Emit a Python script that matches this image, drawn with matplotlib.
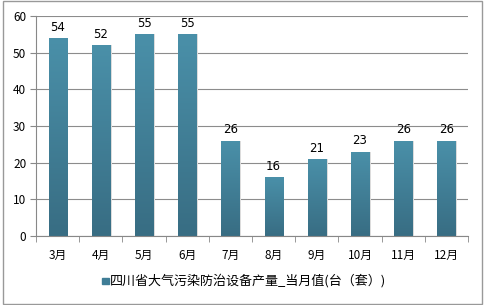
import matplotlib
matplotlib.use('Agg')
import matplotlib.pyplot as plt
import numpy as np
from matplotlib.patches import Rectangle

plt.rcParams['font.family'] = ['Noto Sans CJK SC', 'DejaVu Sans']

# data
months = ['3月', '4月', '5月', '6月', '7月', '8月', '9月', '10月', '11月', '12月']
values = [54, 52, 55, 55, 26, 16, 21, 23, 26, 26]
legend_label = '四川省大气污染防治设备产量_当月值(台（套）)'

fig = plt.figure(figsize=(4.84, 3.05), dpi=100)
ax = fig.add_axes([36 / 484, 1 - 236 / 305, (468 - 36) / 484, 220 / 305])

x = np.arange(len(months))
bars = ax.bar(x, values, width=0.42, color='#44839c', zorder=2)

# vertical gradient inside each bar
grad = np.linspace(0, 1, 256).reshape(-1, 1)
cmap = matplotlib.colors.LinearSegmentedColormap.from_list('g', ['#386d83', '#4a90a9'])
for b in bars:
    x0, w, h = b.get_x(), b.get_width(), b.get_height()
    im = ax.imshow(grad, extent=[x0, x0 + w, 0, h], origin='lower', aspect='auto',
                   cmap=cmap, zorder=2)
    im.set_clip_path(b)
    # light shadow on right
    ax.add_patch(Rectangle((x0 + w, 0), 0.04, h, color='#dcdcdc', zorder=1, lw=0))

for xi, v in zip(x, values):
    ax.text(xi, v + 1.2, str(v), ha='center', va='bottom', fontsize=8.5, color='black',
            family=['DejaVu Sans'])

ax.set_xlim(-0.5, len(months) - 0.5)
ax.set_ylim(0, 60)
ax.set_yticks(range(0, 61, 10))
ax.set_xticks(x)
ax.set_xticklabels(months, fontsize=8.5)
ax.set_xticks(np.arange(-0.5, len(months), 1), minor=True)
ax.tick_params(axis='x', which='major', length=0, pad=9)
ax.tick_params(axis='x', which='minor', length=4, color='#888888')
ax.tick_params(axis='y', length=4, color='#888888', labelsize=8.5, pad=3)
ax.grid(axis='y', color='#8c8c8c', lw=0.8, zorder=0)
ax.set_axisbelow(True)
for s in ['top', 'right']:
    ax.spines[s].set_visible(False)
for s in ['left', 'bottom']:
    ax.spines[s].set_color('#888888')

# legend
fig.patches.append(Rectangle((102 / 484, 1 - 284 / 305), 6.5 / 484, 6.5 / 305,
                             transform=fig.transFigure, color='#3f7d96'))
fig.text(110 / 484, 1 - 281 / 305, legend_label, fontsize=9.4, va='center', ha='left')

# outer frame
fig.patches.append(Rectangle((0.006, 0.003), 0.99, 0.993, transform=fig.transFigure,
                             fill=False, edgecolor='#999999', lw=1))

fig.savefig('out.png', dpi=100)
